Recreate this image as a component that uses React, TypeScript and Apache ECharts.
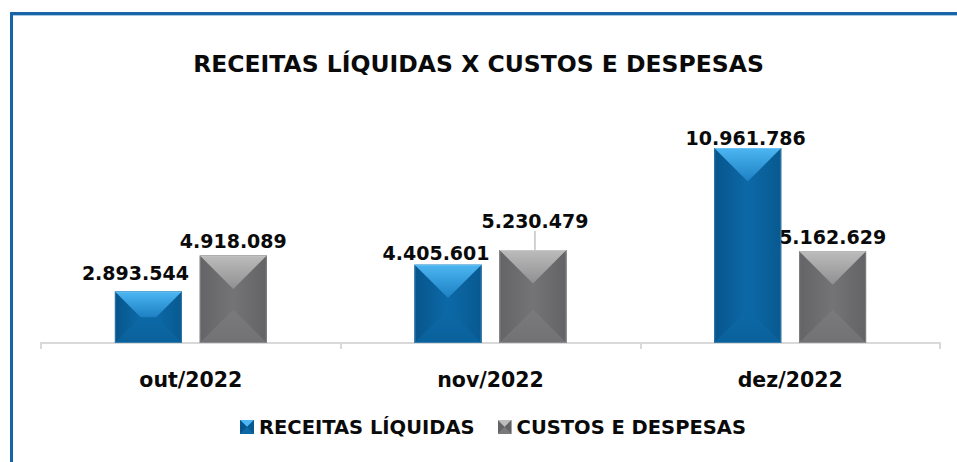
import React, { useEffect, useRef } from "react";
import * as echarts from "echarts";

const categories = ["out/2022", "nov/2022", "dez/2022"];
const receitas = [2893544, 4405601, 10961786];
const custos = [4918089, 5230479, 5162629];
const seriesNames = ["RECEITAS LÍQUIDAS", "CUSTOS E DESPESAS"];
const titleText = "RECEITAS LÍQUIDAS X CUSTOS E DESPESAS";

// label nudges (style only)
const receitasLabelOffset = [[-13, -4], [-12, 3], [-2, 4]];
const custosLabelOffset = [[-10, -4], [0, 0], [11, -1]];

const FONT = "'DejaVu Sans', sans-serif";
const BAR_RATIO = 67 / 300;
const GAP_RATIO = 18 / 67;

const fmt = (v: number) => String(v).replace(/\B(?=(\d{3})+(?!\d))/g, ".");

const palettes = {
  blue: {
    base: "#0a64a2",
    top: ["#4cb6f2", "#1d80c2"],
    left: ["#07558c", "#0c69a7"],
    right: ["#0c69a7", "#085990"],
    bottom: ["#0c69a6", "#0a619b"],
  },
  gray: {
    base: "#6f6f71",
    top: ["#bcbcbc", "#909092"],
    left: ["#646466", "#747476"],
    right: ["#747476", "#636365"],
    bottom: ["#7a7a7c", "#727274"],
  },
};

function lin(horizontal: boolean, c: string[]) {
  return {
    type: "linear",
    x: 0,
    y: 0,
    x2: horizontal ? 1 : 0,
    y2: horizontal ? 0 : 1,
    colorStops: [
      { offset: 0, color: c[0] },
      { offset: 1, color: c[1] },
    ],
  };
}

function iconSvg(p: any) {
  const svg =
    "<svg xmlns='http://www.w3.org/2000/svg' width='14' height='14'>" +
    `<rect x='0' y='0' width='14' height='14' fill='${p.base}'/>` +
    `<polygon points='0,0 14,0 7,7' fill='${p.top[0]}'/>` +
    `<polygon points='0,0 7,7 0,14' fill='${p.left[0]}'/>` +
    `<polygon points='14,0 7,7 14,14' fill='${p.right[1]}'/>` +
    `<polygon points='0,14 14,14 7,7' fill='${p.bottom[0]}'/>` +
    "</svg>";
  return "image://data:image/svg+xml;charset=utf-8," + encodeURIComponent(svg);
}

function bevelRender(sign: number, p: any) {
  return (params: any, api: any) => {
    const idx = api.value(0);
    const val = api.value(1);
    const band = api.size([1, 0])[0];
    const w = band * BAR_RATIO;
    const gap = w * GAP_RATIO;
    const topPt = api.coord([idx, val]);
    const basePt = api.coord([idx, 0]);
    const cx = topPt[0] + (sign * (w + gap)) / 2;
    const x0 = cx - w / 2;
    const x1 = cx + w / 2;
    const yt = topPt[1];
    const yb = basePt[1];
    const h = yb - yt;
    const d = Math.min(w, h) / 2;
    return {
      type: "group",
      silent: true,
      children: [
        { type: "rect", shape: { x: x0, y: yt, width: w, height: h }, style: { fill: p.base } },
        {
          type: "polygon",
          shape: { points: [[x0, yt], [x0 + d, yt + d], [x0 + d, yb - d], [x0, yb]] },
          style: { fill: lin(true, p.left) },
        },
        {
          type: "polygon",
          shape: { points: [[x1, yt], [x1 - d, yt + d], [x1 - d, yb - d], [x1, yb]] },
          style: { fill: lin(true, p.right) },
        },
        {
          type: "polygon",
          shape: { points: [[x0, yb], [x1, yb], [x1 - d, yb - d], [x0 + d, yb - d]] },
          style: { fill: lin(false, p.bottom) },
        },
        {
          type: "polygon",
          shape: { points: [[x0, yt], [x1, yt], [x1 - d, yt + d], [x0 + d, yt + d]] },
          style: { fill: lin(false, p.top) },
        },
        {
          type: "rect",
          shape: { x: x0 + 0.5, y: yt + 0.5, width: w - 1, height: h - 1 },
          style: { fill: "none", stroke: "rgba(255,255,255,0.18)", lineWidth: 1 },
        },
      ],
    };
  };
}

export default function App() {
  const ref = useRef<HTMLDivElement>(null);

  useEffect(() => {
    if (!ref.current) return;
    const chart = echarts.init(ref.current, undefined, { renderer: "svg" });

    const labelBase = {
      show: true,
      position: "top",
      distance: 5,
      color: "#0a0a0a",
      fontFamily: FONT,
      fontWeight: "bold",
      fontSize: 19,
      formatter: (pp: any) => fmt(pp.value),
    };

    chart.setOption({
      animation: false,
      backgroundColor: "#ffffff",
      title: {
        text: titleText,
        left: "center",
        top: 47,
        textStyle: { fontFamily: FONT, fontWeight: "bold", fontSize: 23.5, color: "#0a0a0a" },
      },
      legend: {
        left: 235,
        top: 412,
        itemWidth: 14,
        itemHeight: 14,
        itemGap: 23,
        textStyle: { fontFamily: FONT, fontWeight: "bold", fontSize: 19.5, color: "#0a0a0a" },
        data: [
          { name: seriesNames[0], icon: iconSvg(palettes.blue) },
          { name: seriesNames[1], icon: iconSvg(palettes.gray) },
        ],
        selectedMode: false,
      },
      grid: { left: 41, right: 17, top: 94, bottom: 119 },
      xAxis: {
        type: "category",
        data: categories,
        axisLine: { lineStyle: { color: "#d9d9d9", width: 2 } },
        axisTick: { show: true, length: 6, lineStyle: { color: "#d9d9d9", width: 2 } },
        axisLabel: {
          margin: 26,
          fontFamily: FONT,
          fontWeight: "bold",
          fontSize: 20.5,
          color: "#0a0a0a",
        },
      },
      yAxis: {
        type: "value",
        min: 0,
        max: 14000000,
        show: false,
        splitLine: { show: false },
      },
      series: [
        {
          name: seriesNames[0],
          type: "bar",
          barWidth: (BAR_RATIO * 100).toFixed(2) + "%",
          barGap: (GAP_RATIO * 100).toFixed(1) + "%",
          itemStyle: { color: palettes.blue.base },
          label: labelBase,
          data: receitas.map((v, i) => ({ value: v, label: { offset: receitasLabelOffset[i] } })),
          z: 2,
        },
        {
          name: seriesNames[1],
          type: "bar",
          barWidth: (BAR_RATIO * 100).toFixed(2) + "%",
          barGap: (GAP_RATIO * 100).toFixed(1) + "%",
          itemStyle: { color: palettes.gray.base },
          label: labelBase,
          labelLine: { show: false, lineStyle: { color: "#a6a6a6", width: 1 } },
          labelLayout: (pp: any) => (pp.dataIndex === 1 ? { dx: 2, dy: -14 } : {}),
          data: custos.map((v, i) =>
            i === 1
              ? { value: v, labelLine: { show: true, lineStyle: { color: "#a6a6a6", width: 1 } } }
              : { value: v, label: { offset: custosLabelOffset[i] } }
          ),
          z: 2,
        },
        {
          name: "bevel-receitas",
          type: "custom",
          renderItem: bevelRender(-1, palettes.blue),
          data: receitas.map((v, i) => [i, v]),
          encode: { x: 0, y: 1 },
          silent: true,
          z: 3,
        },
        {
          name: "bevel-custos",
          type: "custom",
          renderItem: bevelRender(1, palettes.gray),
          data: custos.map((v, i) => [i, v]),
          encode: { x: 0, y: 1 },
          silent: true,
          z: 3,
        },
      ],
      graphic: [
        { type: "rect", left: 10, top: 12, shape: { width: 947, height: 3 }, style: { fill: "#1765a7" } },
        { type: "rect", left: 13, top: 15, shape: { width: 944, height: 1 }, style: { fill: "#a9c8e4" } },
        { type: "rect", left: 10, top: 12, shape: { width: 3, height: 450 }, style: { fill: "#1765a7" } },
      ],
    });

    return () => chart.dispose();
  }, []);

  return (
    <div
      ref={ref}
      style={{ position: "absolute", left: 0, top: 0, width: 957, height: 462 }}
    />
  );
}
